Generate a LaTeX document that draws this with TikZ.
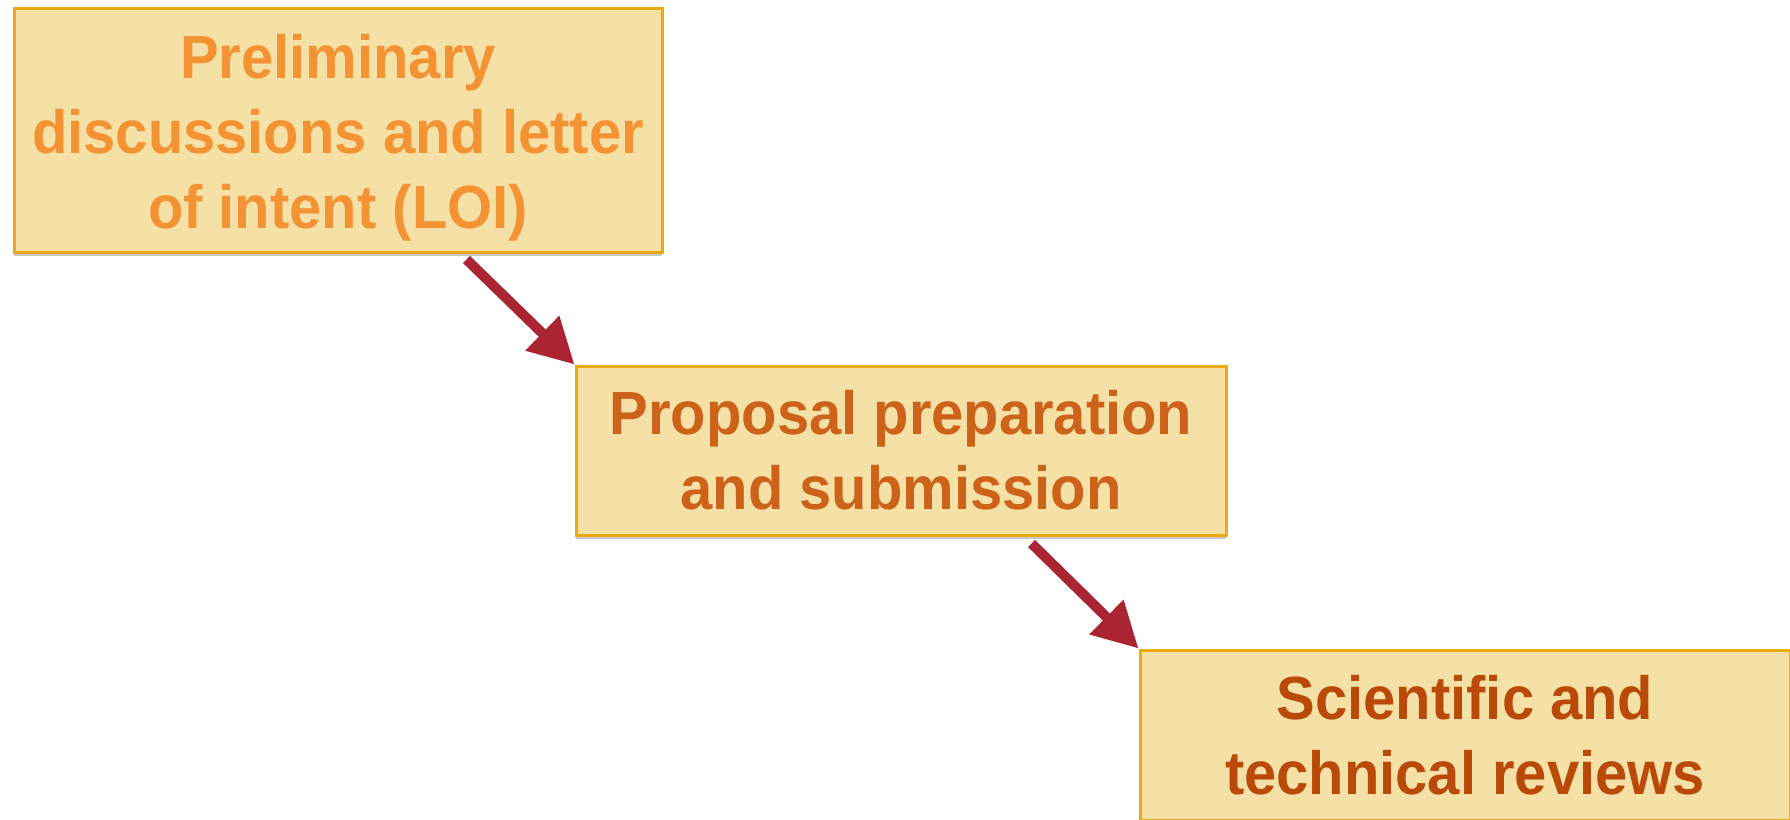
\documentclass[tikz,border=0pt]{standalone}
\usepackage{fontspec}
\setmainfont{Liberation Sans}
\newfontfamily\boxfont[FakeStretch=0.95]{Liberation Sans}
\usetikzlibrary{arrows.meta,shadows}
\definecolor{boxfill}{RGB}{245,224,165}
\definecolor{boxline}{RGB}{234,170,20}
\definecolor{txtA}{RGB}{244,147,51}
\definecolor{txtB}{RGB}{205,98,26}
\definecolor{txtC}{RGB}{185,74,10}
\definecolor{arrcol}{RGB}{170,36,50}
\tikzset{
  boxtext/.style={align=center, inner sep=0pt,
    font=\boxfont\fontsize{61}{75}\selectfont\bfseries},
  stepbox/.style={boxtext, draw=boxline, line width=3pt, fill=boxfill,
    minimum width=648pt,
    drop shadow={shadow xshift=0pt, shadow yshift=-4pt, opacity=0.22, fill=black}},
  flowarrow/.style={draw=arrcol, line width=10pt,
    -{Triangle[length=45pt,width=46pt]}}
}
\begin{document}
\begin{tikzpicture}[x=1pt,y=-1pt]
\useasboundingbox (0,0) rectangle (1790,819);
\clip (0,0) rectangle (1790,819);
\node[stepbox, minimum height=244pt] (b1) at (338,130) {};
\node[boxtext, text=txtA] (t1) at ([shift={(0,8)}]b1.center)
  {Preliminary\\discussions and letter\\of intent (LOI)};
\node[stepbox, minimum height=169pt, minimum width=650pt, text=txtB] (b2) at (901,450.5)
  {Proposal preparation\\and submission};
\node[stepbox, minimum height=170pt, minimum width=650pt, text=txtC] (b3) at (1465,735)
  {Scientific and\\technical reviews};
\draw[flowarrow] ([shift={(454,6)}]b1.south west) -- (b2.north west);
\draw[flowarrow] ([shift={(457,7)}]b2.south west) -- (b3.north west);
\end{tikzpicture}
\end{document}
